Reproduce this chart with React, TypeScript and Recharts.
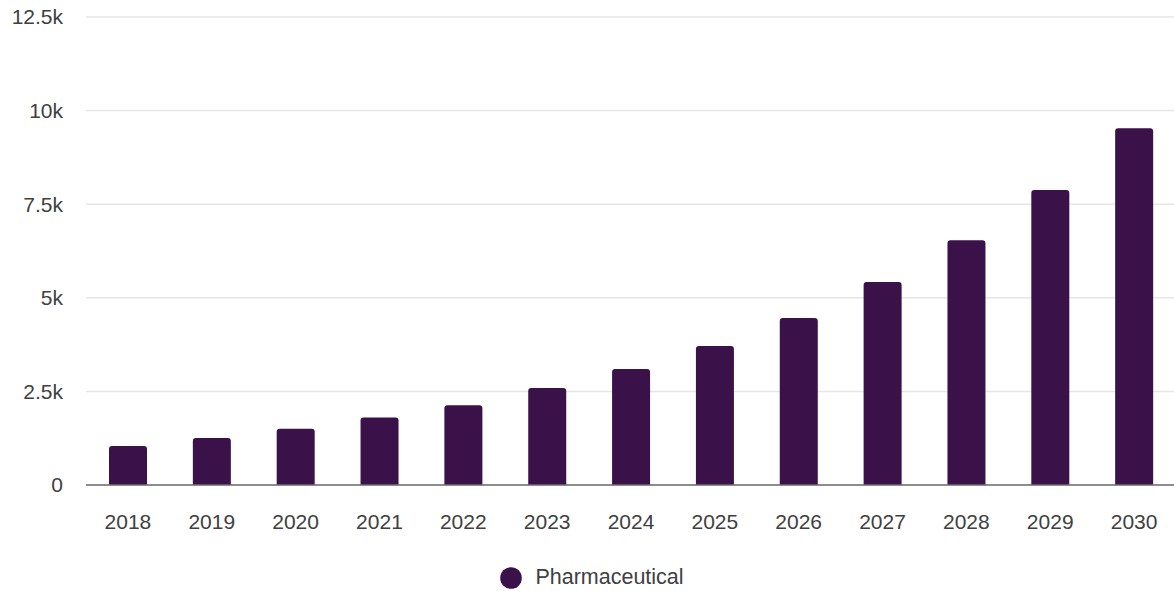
import React from "react";
import { BarChart, Bar, XAxis, YAxis, CartesianGrid, Legend } from "recharts";

const years = ["2018", "2019", "2020", "2021", "2022", "2023", "2024", "2025", "2026", "2027", "2028", "2029", "2030"];
const pharmaceutical = [1042, 1255, 1504, 1800, 2130, 2590, 3100, 3710, 4460, 5420, 6540, 7880, 9530];
const yTicks = [0, 2500, 5000, 7500, 10000, 12500];
const seriesName = "Pharmaceutical";

const BAR_COLOR = "#3a1249";
const TEXT_COLOR = "#404040";
const FONT = "'Liberation Sans', Arial, sans-serif";

const data = years.map((y, i) => ({ year: y, value: pharmaceutical[i] }));

const fmt = (v: number) => (v === 0 ? "0" : `${v / 1000}k`);

const LegendContent = () => (
  <div style={{ display: "flex", justifyContent: "center", alignItems: "center", fontFamily: FONT, fontSize: 21.5, color: TEXT_COLOR, paddingLeft: 10 }}>
    <svg width={22} height={22} style={{ marginRight: 13 }}>
      <circle cx={11} cy={11} r={10.8} fill={BAR_COLOR} />
    </svg>
    <span>{seriesName}</span>
  </div>
);

export default function App() {
  return (
    <div style={{ position: "fixed", left: 0, top: 0, width: 1174, height: 591, overflow: "hidden", background: "#fff" }}>
      <BarChart
        width={1176}
        height={591}
        data={data}
        margin={{ top: 17, right: 0, left: 0, bottom: 56 }}
        barSize={38}
      >
        <CartesianGrid vertical={false} stroke="#e6e6e6" strokeWidth={1.5} />
        <XAxis
          dataKey="year"
          height={50}
          tickSize={0}
          tickMargin={29}
          tickLine={false}
          axisLine={{ stroke: "#6e6e6e", strokeWidth: 1.5 }}
          tick={{ fill: TEXT_COLOR, fontSize: 21, fontFamily: FONT }}
        />
        <YAxis
          width={86}
          domain={[0, 12500]}
          ticks={yTicks}
          tickFormatter={fmt}
          tickSize={0}
          tickMargin={23}
          tickLine={false}
          axisLine={false}
          tick={{ fill: TEXT_COLOR, fontSize: 21, fontFamily: FONT }}
        />
        <Legend
          layout="horizontal"
          verticalAlign="middle"
          align="center"
          content={() => <LegendContent />}
          wrapperStyle={{ top: 565, left: 0, width: 1174 }}
        />
        <Bar dataKey="value" name={seriesName} fill={BAR_COLOR} radius={[3, 3, 0, 0]} isAnimationActive={false} />
      </BarChart>
    </div>
  );
}
